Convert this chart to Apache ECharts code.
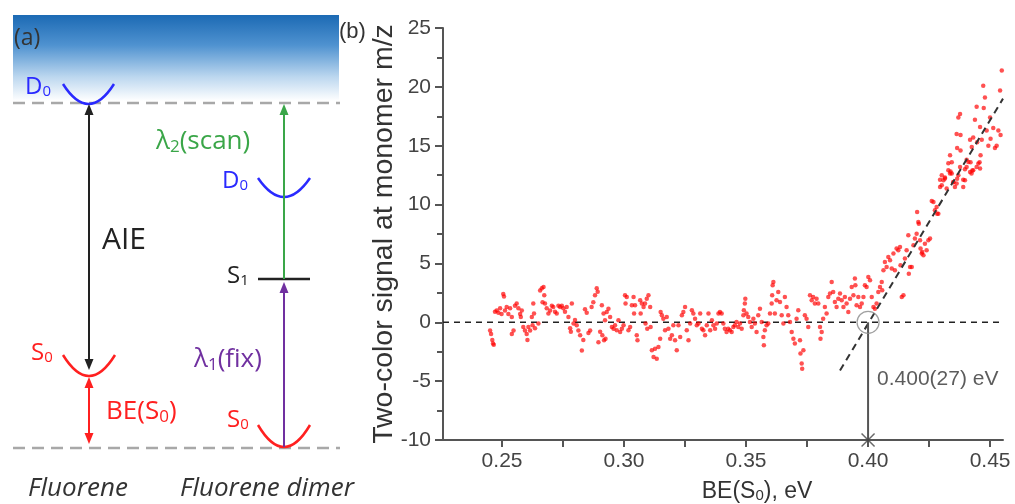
<!DOCTYPE html>
<html>
<head>
<meta charset="utf-8">
<script src="https://cdn.jsdelivr.net/npm/echarts@6/dist/echarts.min.js"></script>
<style>
  html, body { margin: 0; padding: 0; background: #fff; }
  #chart { width: 1015px; height: 504px; }
</style>
</head>
<body>
<div id="chart"></div>
<script>
// panel (b) data: [BE(S0) in eV, two-color signal]
const flatLeft = [
  [0.2451,-0.7],[0.2455,-1.0],[0.2460,-1.5],[0.2463,-1.8],[0.2466,-1.9],
  [0.2471,0.9],[0.2478,1.0],[0.2485,0.8],[0.2492,1.2],[0.2498,0.7],[0.2505,2.4],[0.2508,2.2],[0.2512,1.0],
  [0.2519,1.3],[0.2526,0.7],[0.2533,1.2],[0.2540,0.45],[0.2540,-1.0],[0.2547,-0.7],[0.2553,1.4],[0.2560,1.6],
  [0.2567,1.2],[0.2574,0.7],[0.2577,0.45],[0.2581,1.0],[0.2587,-0.4],[0.2594,-0.7],[0.2601,-1.0],[0.2604,-1.5],
  [0.2608,-0.4],[0.2615,-0.7],[0.2622,0.45],[0.2625,-0.25],[0.2628,1.6],[0.2631,0.75],[0.2635,-0.5],[0.2649,-0.1],
  [0.2656,2.7],[0.2663,2.9],[0.2670,3.0],[0.2666,1.7],[0.2673,2.3],[0.2676,1.6],[0.2683,1.2],[0.2690,0.75],
  [0.2697,1.0],[0.2704,1.4],[0.2710,1.3],[0.2717,0.9],[0.2724,0.75],[0.2731,1.4],[0.2738,1.3],[0.2745,1.4],
  [0.2751,1.2],[0.2758,0.9],[0.2765,1.3],[0.2772,0.45],[0.2779,-0.5],[0.2782,-0.8],[0.2786,1.6],[0.2793,-0.1],
  [0.2799,0.2],[0.2806,-0.25],[0.2813,-0.7],[0.2820,-1.1],[0.2827,-2.4],[0.2833,-1.5],[0.2840,1.1],[0.2847,0.8],
  [0.2854,-0.9],[0.2861,-0.7],[0.2867,1.3],[0.2874,1.7],[0.2881,2.3],[0.2888,2.9],[0.2892,2.6],[0.2895,-1.7],
  [0.2902,-0.8]
];
const flatMid = [
  [0.2909,1.44],[0.2916,0.74],[0.2922,0.17],[0.2929,0.88],[0.2936,1.16],[0.2911,-1.1],[0.2918,-1.53],[0.2924,-1.39],
  [0.2943,0.45],[0.2950,-0.40],[0.2957,-0.54],[0.2963,-0.25],[0.2970,-0.68],[0.2977,0.17],[0.2984,-0.82],[0.2991,-0.54],
  [0.2998,-0.25],[0.3004,2.30],[0.3011,2.15],[0.3006,1.59],[0.3018,-0.68],[0.3025,-0.40],[0.3032,1.44],[0.3039,2.15],
  [0.3041,0.74],[0.3045,1.44],[0.3052,-1.10],[0.3055,-1.53],[0.3066,1.87],[0.3068,0.74],[0.3073,1.59],[0.3080,1.30],
  [0.3086,1.59],[0.3088,-0.11],[0.3093,2.01],[0.3095,-0.54],[0.3100,2.30],[0.3107,1.30],[0.3109,-0.40],[0.3114,-2.38],
  [0.3121,-2.95],[0.3127,-2.24],[0.3134,-3.09],[0.3141,-2.10],[0.3148,-1.39],[0.3150,0.88],[0.3155,0.59],[0.3161,0.31],
  [0.3168,-0.68],[0.3175,0.45],[0.3182,-0.54],[0.3189,-1.39],[0.3196,-1.10],[0.3202,-0.25],[0.3209,-1.53],[0.3216,-2.38],
  [0.3223,-0.25],[0.3230,-1.25],[0.3237,0.59],[0.3243,0.88],[0.3250,1.30],[0.3257,-0.68],[0.3264,-1.53],[0.3271,-0.11],
  [0.3278,1.02],[0.3284,0.74],[0.3291,0.31],[0.3298,-0.25],[0.3305,-0.11],[0.3312,0.74],[0.3319,-0.54],[0.3325,-0.68],
  [0.3332,-1.10],[0.3339,-0.25],[0.3346,0.74],[0.3353,-0.68],[0.3360,0.17],[0.3366,-0.25],[0.3373,-0.54],[0.3380,-0.11],
  [0.3387,0.74]
];
const flatRight = [
  [0.3393,0.88],[0.3400,0.74],[0.3407,-0.11],[0.3413,-0.54],[0.3420,-0.82],[0.3427,-0.54],[0.3434,-0.68],[0.3441,-0.82],
  [0.3448,-0.40],[0.3454,-0.25],[0.3461,0.03],[0.3468,-0.40],[0.3475,-0.11],[0.3482,-0.54],[0.3489,0.59],[0.3491,1.02],
  [0.3495,1.59],[0.3497,2.01],[0.3502,0.74],[0.3509,0.45],[0.3516,0.03],[0.3523,-0.40],[0.3530,0.31],[0.3536,-0.11],
  [0.3543,-0.82],[0.3550,0.59],[0.3557,1.16],[0.3564,0.03],[0.3571,-1.25],[0.3573,-1.95],[0.3577,-0.68],[0.3584,-0.25],
  [0.3591,-0.11],[0.3598,0.74],[0.3605,1.59],[0.3607,2.29],[0.3609,3.14],[0.3612,3.43],[0.3618,0.74],[0.3625,1.87],
  [0.3632,2.58],[0.3639,1.73],[0.3646,0.59],[0.3653,-0.11],[0.3659,2.15],[0.3666,1.30],[0.3673,0.59],[0.3680,0.03],
  [0.3687,-0.82],[0.3694,-1.39],[0.3700,-1.81],[0.3707,0.31],[0.3714,1.02],[0.3721,-1.53],[0.3723,-2.66],[0.3728,-3.51],
  [0.3730,-3.94],[0.3735,-2.38],[0.3741,0.59],[0.3748,0.31],[0.3755,-0.40],[0.3762,2.29],[0.3769,1.87],[0.3775,2.15],
  [0.3782,1.59],[0.3789,2.01],[0.3796,1.59],[0.3803,-0.40],[0.3810,-0.82],[0.3805,-1.39],[0.3816,0.31],[0.3823,1.30],
  [0.3830,0.74],[0.3837,2.15],[0.3844,2.44],[0.3851,3.43],[0.3857,2.58],[0.3864,1.73],[0.3871,1.30],[0.3878,2.01]
];
const rising = [
  [0.3885,2.44],[0.3892,1.87],[0.3899,1.30],[0.3905,2.15],[0.3912,1.59],[0.3919,0.88],[0.3926,2.01],[0.3933,3.0],
  [0.3940,2.29],[0.3946,3.71],[0.3948,3.14],[0.3953,1.44],[0.3960,2.15],[0.3967,1.30],[0.3974,1.59],[0.3981,2.15],
  [0.3987,3.14],[0.3994,3.0],[0.4001,3.85],[0.4008,3.57],[0.4015,2.15],[0.4022,1.30],[0.4028,1.16],[0.4035,1.59],
  [0.4042,2.58],[0.4049,3.0],[0.4056,3.43],[0.4058,2.72],[0.4063,4.42],[0.4069,5.13],[0.4076,4.70],[0.4083,5.55],
  [0.4090,5.27],[0.4097,4.56],[0.4104,5.85],[0.4110,4.42],[0.4117,6.27],[0.4124,6.12],[0.4131,6.40],[0.4133,4.84],
  [0.4138,2.15],[0.4145,2.29],[0.4151,5.41],[0.4158,6.12],[0.4165,7.39],[0.4167,4.13],[0.4172,4.70],[0.4179,4.70],
  [0.4186,6.54],[0.4192,7.11],[0.4199,7.53],[0.4201,9.37],[0.4206,8.53],[0.4208,8.38],[0.4213,6.97],[0.4215,6.27],
  [0.4220,5.85],[0.4222,5.98],[0.4227,5.70],[0.4233,6.68],[0.4240,6.12],[0.4247,6.97],[0.4254,7.11],[0.4261,10.3],
  [0.4268,10.22],[0.4274,9.51],[0.4281,9.80],[0.4283,9.23],[0.4288,9.23],[0.4295,11.5],[0.4302,11.64],[0.4309,12.07],
  [0.4315,12.21],[0.4322,11.36],[0.4329,12.91],[0.4336,12.63],[0.4343,12.63],[0.4350,11.92],[0.4356,11.5],[0.4363,11.78],
  [0.4370,12.49],[0.4377,13.2],[0.4390,11.5],[0.4397,12.07],[0.4404,13.2],[0.4411,13.62],[0.4418,12.77],[0.4424,12.63],
  [0.4431,12.91],[0.4445,13.2],[0.4452,13.48],[0.4459,13.06]
];
const risingTop = [
  [0.4548,21.4],[0.4472,20.1],[0.4541,19.7],[0.4479,19.1],[0.4445,18.3],[0.4474,18.2],[0.4500,17.4],[0.4377,17.7],
  [0.4370,17.4],[0.4438,17.2],[0.4459,16.6],[0.4486,16.3],[0.4513,16.5],[0.4534,16.3],[0.4543,15.9],[0.4527,15.0],
  [0.4520,14.8],[0.4502,15.6],[0.4493,15.0],[0.4466,15.5],[0.4431,15.7],[0.4418,15.5],[0.4363,16.0],[0.4379,15.9],
  [0.4425,14.9],[0.4447,15.3],[0.4461,14.2],[0.4379,14.6],[0.4365,14.8],[0.4336,14.2],[0.4343,13.6],[0.4329,13.5],
  [0.4404,13.8],[0.4420,13.6],[0.4427,12.9],[0.4397,13.0],[0.4457,13.6],[0.4302,12.5],[0.4315,12.3],[0.4338,12.8],
  [0.4365,12.2],[0.4295,12.1],[0.4349,11.9],[0.4390,12.1]
];
const fitLine = [[0.3885, -4.1], [0.4553, 19.0]];
const threshold = 0.4;
const thresholdText = '0.400(27) eV';
const xRange = [0.2258, 0.4553];
const xLabels = [0.25, 0.30, 0.35, 0.40, 0.45];
const xTicks = [0.25, 0.275, 0.30, 0.325, 0.35, 0.375, 0.40, 0.425, 0.45];

const diagramFont = '"Open Sans", "Noto Sans", sans-serif';
const plotFont = '"Liberation Sans", Arial, sans-serif';

const blue = '#2a2aff', red = '#ff2020', green = '#3aa648', purple = '#7030a0', ink = '#222';

// text with an optional {s|..} subscript part
function txt(x, y, text, color, size, extra) {
  return Object.assign({
    type: 'text', x: x, y: y,
    style: {
      text: text, fill: color, fontSize: size, fontFamily: diagramFont,
      verticalAlign: 'middle', align: 'left',
      rich: {
        s: { fontSize: Math.round(size * 0.64), fill: color, fontFamily: diagramFont,
             padding: [Math.round(size * 0.42), 0, 0, 0] }
      }
    }
  }, extra || {});
}
function well(x1, x2, yTop, yBottom, color) {
  const cx = (x1 + x2) / 2;
  return { type: 'bezierCurve',
    shape: { x1: x1, y1: yTop, x2: x2, y2: yTop, cpx1: cx, cpy1: 2 * yBottom - yTop },
    style: { stroke: color, lineWidth: 2.5, fill: null } };
}
function vline(x, y1, y2, color) {
  return { type: 'line', shape: { x1: x, y1: y1, x2: x, y2: y2 }, style: { stroke: color, lineWidth: 2 } };
}
function head(x, y, dir, color) {
  // dir = -1 points up, 1 points down
  return { type: 'polygon', shape: { points: [[x, y], [x - 4.5, y - dir * 11], [x + 4.5, y - dir * 11]] },
    style: { fill: color } };
}
function dashed(y) {
  return { type: 'line', shape: { x1: 13, y1: y, x2: 340, y2: y },
    style: { stroke: '#a8a8a8', lineWidth: 2.5, lineDash: [12, 7] } };
}

const diagram = [
  { type: 'rect', z: -1, shape: { x: 13, y: 15, width: 326, height: 86 },
    style: { fill: new echarts.graphic.LinearGradient(0, 0, 0, 1, [
      { offset: 0, color: '#1c6ab4' }, { offset: 0.35, color: '#4f92d0' },
      { offset: 0.72, color: '#bcd7ef' }, { offset: 1, color: '#ffffff' }]) } },
  dashed(103), dashed(448),
  // fluorene
  well(63, 114, 84, 104, blue),
  well(63, 115, 355, 376, red),
  vline(89, 112, 362, ink), head(89, 104, -1, ink), head(89, 370, 1, ink),
  vline(89, 386, 436, red), head(89, 377, -1, red), head(89, 444, 1, red),
  // dimer
  well(258, 310, 178, 197, blue),
  well(258, 310, 425, 447, red),
  { type: 'line', shape: { x1: 258, y1: 279, x2: 310, y2: 279 }, style: { stroke: ink, lineWidth: 2.5 } },
  vline(284, 112, 279, green), head(284, 104, -1, green),
  vline(284, 291, 447, purple), head(284, 282, -1, purple),
  txt(14, 38, '(a)', '#333', 23),
  txt(25, 87, 'D{s|0}', blue, 24),
  txt(102, 240, 'AIE', ink, 30),
  txt(31, 353, 'S{s|0}', red, 24),
  txt(106, 412, 'BE(S{s|0})', red, 26),
  txt(156, 142, 'λ{s|2}(scan)', green, 26),
  txt(222, 181, 'D{s|0}', blue, 24),
  txt(227, 276, 'S{s|1}', ink, 24),
  txt(194, 360, 'λ{s|1}(fix)', purple, 26),
  txt(227, 420, 'S{s|0}', red, 24),
  { type: 'text', x: 78, y: 489, style: { text: 'Fluorene', fill: '#333', fontSize: 26, fontStyle: 'italic',
      fontFamily: diagramFont, align: 'center', verticalAlign: 'middle' } },
  { type: 'text', x: 267, y: 489, style: { text: 'Fluorene dimer', fill: '#333', fontSize: 26, fontStyle: 'italic',
      fontFamily: diagramFont, align: 'center', verticalAlign: 'middle' } },
  { type: 'text', x: 339, y: 32, style: { text: '(b)', fill: '#333', fontSize: 22, fontFamily: plotFont,
      verticalAlign: 'middle' } }
];

const axisColor = '#555';
const chart = echarts.init(document.getElementById('chart'));
chart.setOption({
  animation: false,
  backgroundColor: '#fff',
  graphic: diagram,
  grid: { left: 443, right: 12, top: 28, bottom: 64, containLabel: false, outerBoundsMode: 'none' },
  xAxis: {
    type: 'value', min: xRange[0], max: xRange[1],
    axisLine: { show: true, onZero: false, lineStyle: { color: axisColor, width: 2 } },
    axisTick: { show: true, length: 7, customValues: xTicks, lineStyle: { color: axisColor, width: 2 } },
    axisLabel: { customValues: xLabels, formatter: v => v.toFixed(2), fontSize: 21, color: '#444',
      fontFamily: plotFont, margin: 11 },
    splitLine: { show: false },
    name: 'BE(S{s|0}), eV', nameLocation: 'middle', nameGap: 40, nameMoveOverlap: false,
    nameTextStyle: { fontSize: 23, color: '#333', fontFamily: plotFont, padding: [0, 0, 0, 68],
      rich: { s: { fontSize: 15, fontFamily: plotFont, color: '#333', padding: [8, 0, 0, 0] } } }
  },
  yAxis: {
    type: 'value', min: -10, max: 25, interval: 5,
    axisLine: { show: true, onZero: false, lineStyle: { color: axisColor, width: 2 } },
    axisTick: { show: true, length: 8, lineStyle: { color: axisColor, width: 2 } },
    minorTick: { show: true, splitNumber: 2, length: 6, lineStyle: { color: axisColor, width: 2 } },
    axisLabel: { fontSize: 21, color: '#444', fontFamily: plotFont, margin: 12 },
    splitLine: { show: false },
    name: 'Two-color signal at monomer m/z', nameLocation: 'middle', nameGap: 44, nameMoveOverlap: false,
    nameTextStyle: { fontSize: 28.5, color: '#333', fontFamily: plotFont }
  },
  series: [
    { type: 'line', data: [[xRange[0], 0], [xRange[1], 0]], symbol: 'none', z: 1,
      lineStyle: { color: ink, width: 1.5, type: [6, 5] } },
    { type: 'scatter', data: flatLeft.concat(flatMid, flatRight, rising, risingTop), symbolSize: 4.5, z: 2,
      itemStyle: { color: 'rgba(255,0,0,0.85)' } },
    { type: 'line', data: fitLine, symbol: 'none', z: 3,
      lineStyle: { color: '#333', width: 2, type: [7, 5] } },
    { type: 'line', data: [[threshold, 0], [threshold, -10]], symbol: 'none', z: 3,
      lineStyle: { color: axisColor, width: 2 } },
    { type: 'scatter', data: [[threshold, 0]], symbol: 'circle', symbolSize: 22, z: 4,
      itemStyle: { color: 'rgba(0,0,0,0)', borderColor: '#888', borderWidth: 1.2 } },
    { type: 'scatter', data: [[threshold, -10]], symbol: 'path://M0,0L10,10M0,10L10,0', symbolSize: 13, z: 4,
      itemStyle: { color: 'rgba(0,0,0,0)', borderColor: '#444', borderWidth: 1.5 } },
    { type: 'scatter', data: [[threshold, -4.8]], symbolSize: 0, z: 4,
      label: { show: true, position: 'right', distance: 9, formatter: thresholdText,
        fontSize: 21, color: '#333', fontFamily: plotFont } }
  ]
});
</script>
</body>
</html>
